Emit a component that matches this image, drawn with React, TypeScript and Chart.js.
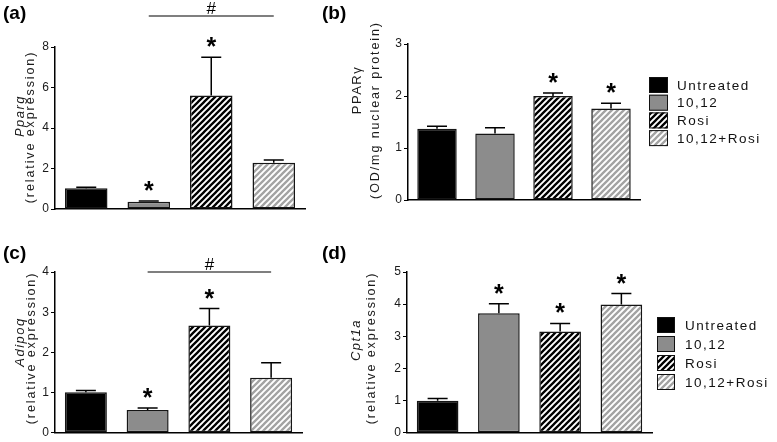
import React, { useEffect, useRef } from 'react';
import { Chart, registerables } from 'chart.js';

Chart.register(...registerables);

// ---------- data ----------
const groupLabels = ['Untreated', '10,12', 'Rosi', '10,12+Rosi'];

// (a) Pparg
const ppargMean = [1.02, 0.36, 5.6, 2.29];
const ppargUpper = [1.07, 0.4, 7.5, 2.42];
const ppargStar = [false, true, true, false];
const ppargMax = 8;
const ppargStep = 2;
const ppargHash = { from: 1, to: 3, level: 9.53 };

// (b) PPARγ protein
const pparMean = [1.37, 1.28, 2.0, 1.76];
const pparUpper = [1.42, 1.39, 2.06, 1.86];
const pparStar = [false, false, true, true];
const pparMax = 3;
const pparStep = 1;

// (c) Adipoq
const adipoqMean = [1.01, 0.57, 2.67, 1.37];
const adipoqUpper = [1.05, 0.62, 3.09, 1.74];
const adipoqStar = [false, true, true, false];
const adipoqMax = 4;
const adipoqStep = 1;
const adipoqHash = { from: 1, to: 3, level: 4 };

// (d) Cpt1a
const cpt1aMean = [1.0, 3.72, 3.15, 3.99];
const cpt1aUpper = [1.07, 4.01, 3.4, 4.33];
const cpt1aStar = [false, true, true, true];
const cpt1aMax = 5;
const cpt1aStep = 1;

// ---------- styling / layout ----------
const FONT = "'Liberation Sans', Arial, Helvetica, sans-serif";

type Panel = {
  tag: string;
  gene: string;
  geneItalic: boolean;
  sub: string;
  mean: number[];
  upper: number[];
  star: boolean[];
  max: number;
  step: number;
  hash?: { from: number; to: number; level: number };
  legend?: { x: number; y: number; gap: number; bw: number; bh: number; tx: number };
  box: { left: number; top: number; width: number; height: number };
  area: { l: number; t: number; r: number; b: number };
  tagPos: { x: number; y: number };
  genePos: { x: number; y: number };
  subPos: { x: number; y: number };
};

const panels: Panel[] = [
  {
    tag: '(a)', gene: 'Pparg', geneItalic: true, sub: '(relative expression)',
    mean: ppargMean, upper: ppargUpper, star: ppargStar, max: ppargMax, step: ppargStep,
    hash: ppargHash,
    box: { left: 0, top: 0, width: 320, height: 220 },
    area: { l: 55, t: 47, r: 305, b: 209 },
    tagPos: { x: 3, y: 19 },
    genePos: { x: 20, y: 116 },
    subPos: { x: 31, y: 127 },
  },
  {
    tag: '(b)', gene: 'PPARγ', geneItalic: false, sub: '(OD/mg nuclear protein)',
    mean: pparMean, upper: pparUpper, star: pparStar, max: pparMax, step: pparStep,
    legend: { x: 329, y: 85, gap: 17.7, bw: 19, bh: 16, tx: 357 },
    box: { left: 320, top: 0, width: 457, height: 220 },
    area: { l: 88, t: 44, r: 320, b: 200 },
    tagPos: { x: 2, y: 19 },
    genePos: { x: 37, y: 90 },
    subPos: { x: 55.5, y: 110 },
  },
  {
    tag: '(c)', gene: 'Adipoq', geneItalic: true, sub: '(relative expression)',
    mean: adipoqMean, upper: adipoqUpper, star: adipoqStar, max: adipoqMax, step: adipoqStep,
    hash: adipoqHash,
    box: { left: 0, top: 220, width: 320, height: 222 },
    area: { l: 55, t: 52, r: 302, b: 215 },
    tagPos: { x: 3, y: 39 },
    genePos: { x: 20, y: 122 },
    subPos: { x: 32, y: 128 },
  },
  {
    tag: '(d)', gene: 'Cpt1a', geneItalic: true, sub: '(relative expression)',
    mean: cpt1aMean, upper: cpt1aUpper, star: cpt1aStar, max: cpt1aMax, step: cpt1aStep,
    legend: { x: 337, y: 105, gap: 19, bw: 18, bh: 16, tx: 365 },
    box: { left: 320, top: 220, width: 457, height: 222 },
    area: { l: 87, t: 52, r: 332, b: 215 },
    tagPos: { x: 2, y: 39 },
    genePos: { x: 36, y: 120 },
    subPos: { x: 52, y: 128 },
  },
];

function makeStripe(fg: string): CanvasPattern | string {
  const s = 6;
  const c = document.createElement('canvas');
  c.width = s;
  c.height = s;
  const g = c.getContext('2d');
  if (!g) return fg;
  g.fillStyle = '#ffffff';
  g.fillRect(0, 0, s, s);
  g.strokeStyle = fg;
  g.lineWidth = 2.3;
  g.beginPath();
  g.moveTo(-1, s + 1);
  g.lineTo(s + 1, -1);
  g.moveTo(-1, 1);
  g.lineTo(1, -1);
  g.moveTo(s - 1, s + 1);
  g.lineTo(s + 1, s - 1);
  g.stroke();
  const p = g.createPattern(c, 'repeat');
  return p || fg;
}

function makePlugin(p: Panel, fills: (CanvasPattern | string)[]) {
  return {
    id: 'panelDecor',
    afterDatasetsDraw(chart: any) {
      const ctx: CanvasRenderingContext2D = chart.ctx;
      const ys = chart.scales.y;
      const meta = chart.getDatasetMeta(0);
      ctx.save();
      ctx.strokeStyle = '#000';
      ctx.fillStyle = '#000';
      ctx.lineWidth = 1.5;
      meta.data.forEach((bar: any, i: number) => {
        const x = bar.x;
        const yb = bar.y;
        const yt = ys.getPixelForValue(p.upper[i]);
        ctx.beginPath();
        ctx.moveTo(x, yb);
        ctx.lineTo(x, yt);
        ctx.moveTo(x - 10, yt);
        ctx.lineTo(x + 10, yt);
        ctx.stroke();
        if (p.star[i]) {
          ctx.font = `bold 25px ${FONT}`;
          ctx.textAlign = 'center';
          ctx.textBaseline = 'alphabetic';
          ctx.fillText('*', x, yt - 2);
        }
      });
      if (p.hash) {
        const x1 = meta.data[p.hash.from].x;
        const x2 = meta.data[p.hash.to].x;
        const y = ys.getPixelForValue(p.hash.level);
        ctx.lineWidth = 1.2;
        ctx.beginPath();
        ctx.moveTo(x1, y);
        ctx.lineTo(x2, y);
        ctx.stroke();
        ctx.font = `17px ${FONT}`;
        ctx.textAlign = 'center';
        ctx.textBaseline = 'alphabetic';
        ctx.fillText('#', (x1 + x2) / 2, y - 2);
      }
      ctx.restore();
    },
    afterDraw(chart: any) {
      const ctx: CanvasRenderingContext2D = chart.ctx;
      ctx.save();
      ctx.fillStyle = '#000';
      // panel tag
      ctx.font = `bold 19px ${FONT}`;
      ctx.textAlign = 'left';
      ctx.textBaseline = 'alphabetic';
      ctx.fillText(p.tag, p.tagPos.x, p.tagPos.y);

      // y axis titles (rotated)
      const rot = (txt: string, x: number, y: number, font: string, spacing: string) => {
        ctx.save();
        ctx.translate(x, y);
        ctx.rotate(-Math.PI / 2);
        (ctx as any).letterSpacing = spacing;
        ctx.font = font;
        ctx.fillStyle = '#1a1a1a';
        ctx.textAlign = 'center';
        ctx.textBaseline = 'middle';
        ctx.fillText(txt, 0, 0);
        ctx.restore();
      };
      rot(p.gene, p.genePos.x, p.genePos.y, `${p.geneItalic ? 'italic ' : ''}13px ${FONT}`, '1.5px');
      rot(p.sub, p.subPos.x, p.subPos.y, `12.5px ${FONT}`, '1.9px');

      // legend
      if (p.legend) {
        const L = p.legend;
        groupLabels.forEach((lab, i) => {
          const cy = L.y + i * L.gap;
          ctx.fillStyle = fills[i] as any;
          ctx.fillRect(L.x, cy - L.bh / 2, L.bw, L.bh);
          ctx.strokeStyle = '#111';
          ctx.lineWidth = 1;
          ctx.strokeRect(L.x + 0.5, cy - L.bh / 2 + 0.5, L.bw - 1, L.bh - 1);
          ctx.save();
          (ctx as any).letterSpacing = '1.5px';
          ctx.fillStyle = '#111';
          ctx.font = `13.5px ${FONT}`;
          ctx.textAlign = 'left';
          ctx.textBaseline = 'middle';
          ctx.fillText(lab, L.tx, cy + 1);
          ctx.restore();
        });
      }
      ctx.restore();
    },
  };
}

function PanelChart({ p }: { p: Panel }) {
  const ref = useRef<HTMLCanvasElement | null>(null);
  useEffect(() => {
    if (!ref.current) return;
    const fills = ['#000000', '#8c8c8c', makeStripe('#000000'), makeStripe('#a3a3a3')];
    const W = p.box.width;
    const H = p.box.height;
    const chart = new Chart(ref.current, {
      type: 'bar',
      data: {
        labels: groupLabels,
        datasets: [
          {
            data: p.mean,
            backgroundColor: fills as any,
            borderColor: '#151515',
            borderWidth: 1.5,
            borderSkipped: false,
            barPercentage: 0.68,
            categoryPercentage: 1,
          },
        ],
      },
      options: {
        responsive: false,
        animation: false,
        devicePixelRatio: 1,
        events: [],
        layout: {
          padding: { left: 0, top: p.area.t, right: W - p.area.r, bottom: H - p.area.b },
        },
        plugins: {
          legend: { display: false },
          tooltip: { enabled: false },
          title: { display: false },
        },
        scales: {
          x: {
            type: 'category',
            ticks: { display: false },
            grid: { display: false },
            border: { display: true, color: '#000', width: 1.5 },
            afterFit: (s: any) => {
              s.height = 0;
            },
          },
          y: {
            min: 0,
            max: p.max,
            ticks: {
              stepSize: p.step,
              color: '#1a1a1a',
              padding: 2,
              font: { family: FONT, size: 12 },
            },
            grid: {
              display: true,
              drawOnChartArea: false,
              drawTicks: true,
              tickLength: 4,
              color: '#000',
              lineWidth: 1,
            },
            border: { display: true, color: '#000', width: 1.5 },
            afterFit: (s: any) => {
              s.width = p.area.l;
            },
          },
        },
      } as any,
      plugins: [makePlugin(p, fills)],
    });
    return () => chart.destroy();
  }, [p]);
  return (
    <canvas
      ref={ref}
      width={p.box.width}
      height={p.box.height}
      style={{
        position: 'absolute',
        left: p.box.left,
        top: p.box.top,
        width: p.box.width,
        height: p.box.height,
      }}
    />
  );
}

export default function App() {
  return (
    <div
      style={{
        position: 'absolute',
        left: 0,
        top: 0,
        width: 777,
        height: 442,
        background: '#ffffff',
        overflow: 'hidden',
      }}
    >
      {panels.map((p) => (
        <PanelChart key={p.tag} p={p} />
      ))}
    </div>
  );
}
